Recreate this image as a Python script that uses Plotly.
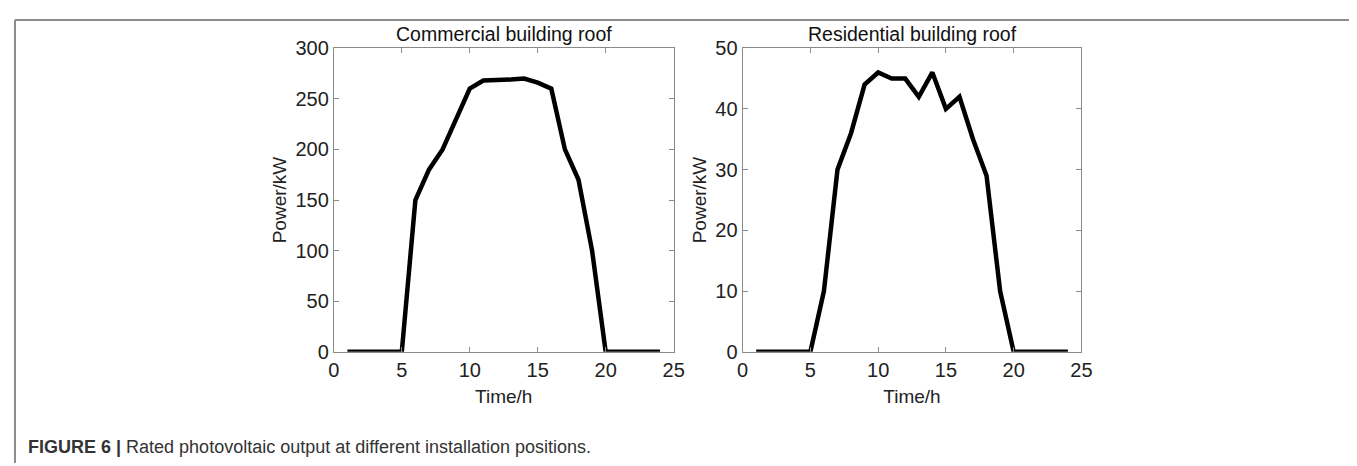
import plotly.graph_objects as go

hours = list(range(1, 25))
commercial_kw = [0, 0, 0, 0, 0, 150, 180, 200, 230, 260, 268, 268,
                 269, 270, 266, 260, 200, 170, 100, 0, 0, 0, 0, 0]
residential_kw = [0, 0, 0, 0, 0, 10, 30, 36, 44, 46, 45, 45,
                  42, 46, 40, 42, 35, 29, 10, 0, 0, 0, 0, 0]
titles = ["Commercial building roof", "Residential building roof"]
x_label = "Time/h"
y_label = "Power/kW"
caption_bold = "FIGURE 6 |"
caption_text = " Rated photovoltaic output at different installation positions."

W, H = 1357, 466
FONT = "Liberation Sans, Arial, sans-serif"

# empirical page placement: target pixel -> figure pixel
AX, SX = 13.0, 0.988
AY, SY = 16.7, 0.957


def px_x(p):
    return ((p - AX) / SX) / W


def px_y(p):
    return 1 - ((p - AY) / SY) / H


fig = go.Figure()
fig.add_trace(go.Scatter(x=hours, y=commercial_kw, mode="lines",
                         line=dict(color="black", width=4.5),
                         xaxis="x", yaxis="y", showlegend=False))
fig.add_trace(go.Scatter(x=hours, y=residential_kw, mode="lines",
                         line=dict(color="black", width=4.5),
                         xaxis="x2", yaxis="y2", showlegend=False))

axis_common = dict(showline=True, linecolor="#8a8a8a", linewidth=1, mirror="ticks",
                   ticks="inside", ticklen=5, tickcolor="#8a8a8a", showgrid=False,
                   zeroline=False, tickfont=dict(family=FONT, size=20, color="#222"),
                   title_font=dict(family=FONT, size=19, color="#222"))

ydom = [px_y(351), px_y(46)]
fig.update_layout(
    xaxis=dict(domain=[px_x(333), px_x(673)], range=[0, 25], tickvals=[0, 5, 10, 15, 20, 25],
               anchor="y", title_text=x_label, title_standoff=9, **axis_common),
    yaxis=dict(domain=ydom, range=[0, 300], tickvals=[0, 50, 100, 150, 200, 250, 300],
               anchor="x", title_text=y_label, title_standoff=3, **axis_common),
    xaxis2=dict(domain=[px_x(742), px_x(1081)], range=[0, 25], tickvals=[0, 5, 10, 15, 20, 25],
                anchor="y2", title_text=x_label, title_standoff=9, **axis_common),
    yaxis2=dict(domain=ydom, range=[0, 50], tickvals=[0, 10, 20, 30, 40, 50],
                anchor="x2", title_text=y_label, title_standoff=3, **axis_common),
    width=W, height=H, margin=dict(l=0, r=0, t=0, b=0),
    paper_bgcolor="white", plot_bgcolor="white",
    font=dict(family=FONT, color="#222"),
)

# subplot titles
for i, (x0, x1) in enumerate([(333, 673), (742, 1081)]):
    fig.add_annotation(text=titles[i], x=(px_x(x0) + px_x(x1)) / 2, y=px_y(32),
                       xref="paper", yref="paper", showarrow=False,
                       xanchor="center", yanchor="middle",
                       font=dict(family=FONT, size=19.5, color="#111"))

# caption
fig.add_annotation(text="<b>" + caption_bold + "</b>" + caption_text,
                   x=px_x(25), y=px_y(447), xref="paper", yref="paper",
                   xanchor="left", yanchor="middle", showarrow=False,
                   font=dict(family=FONT, size=18, color="#333"))

# frame lines (clamped to the figure area)
frame = dict(color="#8c8c8c", width=2)
top = min(px_y(7), 1 - 1 / H)
left = max(px_x(9), 1 / W)
right = min(px_x(1354), 1 - 1 / W)
fig.add_shape(type="line", xref="paper", yref="paper", x0=left, x1=right,
              y0=top, y1=top, line=frame)
fig.add_shape(type="line", xref="paper", yref="paper", x0=left, x1=left,
              y0=top, y1=0, line=frame)
fig.add_shape(type="line", xref="paper", yref="paper", x0=right, x1=right,
              y0=top, y1=0, line=frame)

fig.write_html("out.html")
